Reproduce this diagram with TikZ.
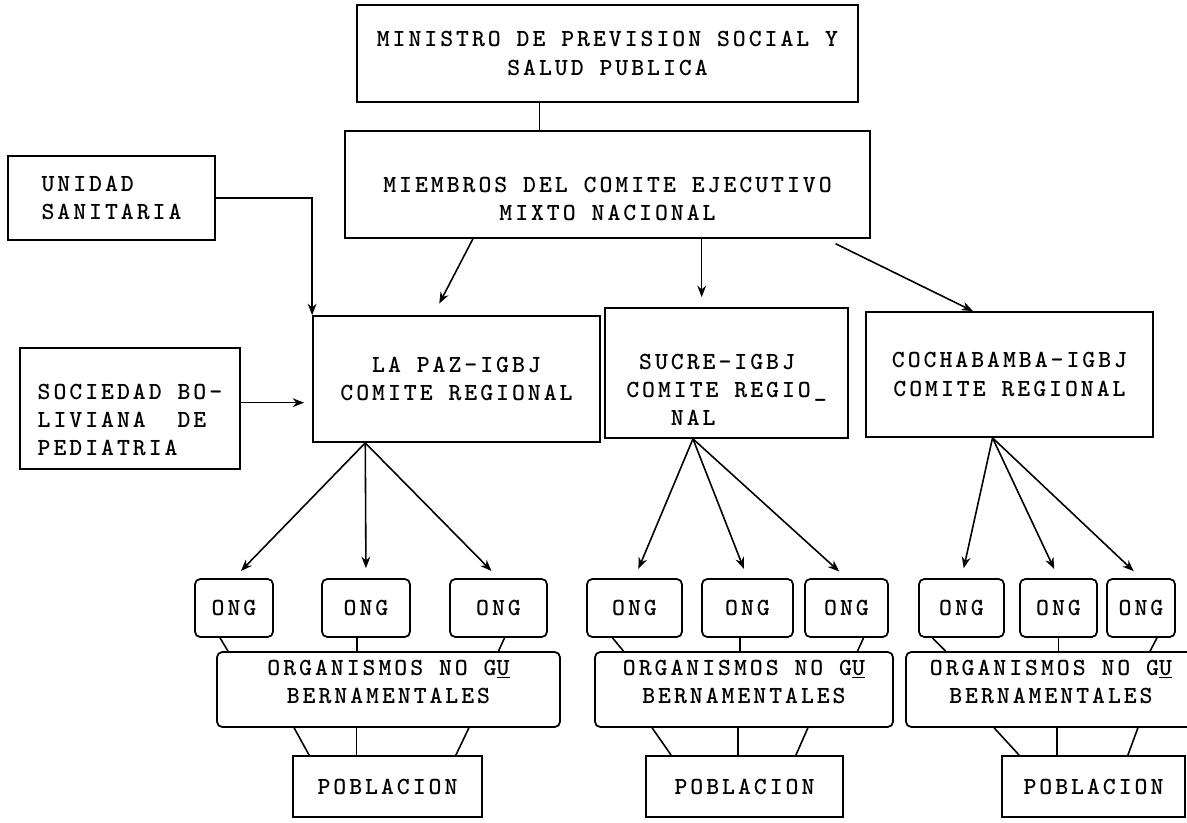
\documentclass[tikz,border=0pt]{standalone}
\usepackage{fontspec}
\usepackage{tikz}
\usetikzlibrary{arrows, arrows.meta, positioning, calc}
\newfontfamily\typew{lmmonolt10-bold}[Extension=.otf, LetterSpace=12]

\begin{document}
\begin{tikzpicture}[
    box/.style={rectangle, draw, line width=1pt, align=center, inner sep=2pt, font=\typew\fontsize{14}{16}\selectfont},
    ong/.style={box, rounded corners=3pt},
    arrow/.style={->, >={Stealth[length=6.5pt, width=5pt]}, line width=0.9pt},
    link/.style={line width=0.9pt}
]
\useasboundingbox (0,0) rectangle (23.74,16.44);

% Top - ministry and national committee
\node[box, minimum width=10.02cm, minimum height=1.94cm] (ministro) at (12.15,15.37) {MINISTRO DE PREVISION SOCIAL Y\\SALUD PUBLICA};
\node[box, minimum width=10.5cm, minimum height=2.14cm] (miembros) at (12.15,12.75) {\rule{0pt}{0.9cm}MIEMBROS DEL COMITE EJECUTIVO\\MIXTO NACIONAL};

% Left side - supporting institutions
\node[box, align=left, minimum width=4.14cm, minimum height=1.68cm] (unidad) at (2.23,12.48) {UNIDAD\\SANITARIA};
\node[box, align=left, minimum width=4.4cm, minimum height=2.42cm] (sociedad) at (2.6,8.27) {\rule{0pt}{0.78cm}SOCIEDAD BO-\\LIVIANA\ \ DE\\PEDIATRIA};

% Regional committees
\node[box, minimum width=5.74cm, minimum height=2.52cm] (lapaz) at (9.13,8.86) {LA PAZ-IGBJ\\COMITE REGIONAL};
\node[box, align=left, minimum width=4.86cm, minimum height=2.6cm] (sucre) at (14.53,8.98) {\rule{0pt}{0.98cm}\phantom{C}SUCRE-IGBJ\\COMITE REGIO\_\\\phantom{COM}NAL};
\node[box, minimum width=5.74cm, minimum height=2.5cm] (cocha) at (20.19,8.95) {COCHABAMBA-IGBJ\\COMITE REGIONAL};

% ONG row
\node[ong, minimum width=1.56cm, minimum height=1.16cm] (l1) at (4.68,4.28) {ONG};
\node[ong, minimum width=1.76cm, minimum height=1.16cm] (l2) at (7.32,4.28) {ONG};
\node[ong, minimum width=1.94cm, minimum height=1.16cm] (l3) at (9.97,4.28) {ONG};
\node[ong, minimum width=1.9cm, minimum height=1.16cm] (s1) at (12.69,4.28) {ONG};
\node[ong, minimum width=1.82cm, minimum height=1.16cm] (s2) at (14.95,4.28) {ONG};
\node[ong, minimum width=1.66cm, minimum height=1.16cm] (s3) at (16.93,4.28) {ONG};
\node[ong, minimum width=1.7cm, minimum height=1.16cm] (c1) at (19.23,4.28) {ONG};
\node[ong, minimum width=1.54cm, minimum height=1.16cm] (c2) at (21.17,4.28) {ONG};
\node[ong, minimum width=1.36cm, minimum height=1.16cm] (c3) at (22.82,4.28) {ONG};

% Organismos no gubernamentales
\node[ong, minimum width=6.86cm, minimum height=1.5cm] (orgl) at (7.77,2.65) {ORGANISMOS NO G\underline{U}\\BERNAMENTALES\rule[-0.32cm]{0pt}{0.32cm}};
\node[ong, minimum width=5.96cm, minimum height=1.5cm] (orgs) at (14.88,2.65) {ORGANISMOS NO G\underline{U}\\BERNAMENTALES\rule[-0.32cm]{0pt}{0.32cm}};
\node[ong, minimum width=5.8cm, minimum height=1.5cm] (orgc) at (21.02,2.65) {ORGANISMOS NO G\underline{U}\\BERNAMENTALES\rule[-0.32cm]{0pt}{0.32cm}};

% Poblacion
\node[box, minimum width=3.78cm, minimum height=1.22cm] (pobl) at (7.75,0.71) {POBLACION};
\node[box, minimum width=3.94cm, minimum height=1.22cm] (pobs) at (14.89,0.71) {POBLACION};
\node[box, minimum width=3.66cm, minimum height=1.22cm] (pobc) at (21.87,0.71) {POBLACION};

% Arrows - top part
\draw[link] (ministro.-144) -- (ministro.-144 |- miembros.north);
\draw[arrow, shorten >=0.26cm] (miembros.-158) -- (lapaz.110);
\draw[arrow, shorten >=0.2cm] (miembros.-30) -- (miembros.-30 |- sucre.north);
\draw[arrow, shorten <=0.22cm] (miembros.-14) -- (cocha.120);
\draw[arrow] (unidad.east) -| (lapaz.north west);
\draw[arrow, shorten >=0.16cm] (sociedad.3) -- (sociedad.3 -| lapaz.west);

% Arrows - regional committees to ONG
\draw[arrow, shorten >=0.2cm] (lapaz.-145) -- (l1.north);
\draw[arrow, shorten >=0.2cm] (lapaz.-145) -- (l2.north);
\draw[arrow, shorten >=0.2cm] (lapaz.-145) -- (l3.north);
\draw[arrow, shorten >=0.2cm] (sucre.-117) -- (s1.north);
\draw[arrow, shorten >=0.2cm] (sucre.-117) -- (s2.north);
\draw[arrow, shorten >=0.2cm] (sucre.-117) -- (s3.north);
\draw[arrow, shorten >=0.2cm] (cocha.-105) -- (c1.north);
\draw[arrow, shorten >=0.2cm] (cocha.-105) -- (c2.north);
\draw[arrow, shorten >=0.2cm] (cocha.-105) -- (c3.north);

% Lines - ONG to organismos
\draw[link] ([xshift=-0.28cm]l1.south) -- ([xshift=-0.12cm]l1.south |- orgl.north);
\draw[link] ([xshift=-0.18cm]l2.south) -- ([xshift=-0.18cm]l2.south |- orgl.north);
\draw[link] ([xshift=0.12cm]l3.south) -- (l3.south |- orgl.north);
\draw[link] ([xshift=-0.44cm]s1.south) -- ([xshift=-0.22cm]s1.south |- orgs.north);
\draw[link] ([xshift=-0.15cm]s2.south) -- ([xshift=-0.15cm]s2.south |- orgs.north);
\draw[link] ([xshift=0.34cm]s3.south) -- ([xshift=0.22cm]s3.south |- orgs.north);
\draw[link] ([xshift=-0.58cm]c1.south) -- ([xshift=-0.32cm]c1.south |- orgc.north);
\draw[link] (c2.south) -- (c2.south |- orgc.north);
\draw[link] ([xshift=0.32cm]c3.south) -- ([xshift=0.18cm]c3.south |- orgc.north);

% Lines - organismos to poblacion
\draw[link] ([xshift=0.04cm]pobl.north west |- orgl.south) -- ([xshift=0.34cm]pobl.north west);
\draw[link] ([xshift=-0.62cm]pobl.north |- orgl.south) -- ([xshift=-0.62cm]pobl.north);
\draw[link] ([xshift=-0.28cm]pobl.north east |- orgl.south) -- ([xshift=-0.54cm]pobl.north east);
\draw[link] ([xshift=0.14cm]pobs.north west |- orgs.south) -- ([xshift=0.52cm]pobs.north west);
\draw[link] ([xshift=-0.13cm]pobs.north |- orgs.south) -- ([xshift=-0.13cm]pobs.north);
\draw[link] ([xshift=-0.72cm]pobs.north east |- orgs.south) -- ([xshift=-0.96cm]pobs.north east);
\draw[link] ([xshift=-0.14cm]pobc.north west |- orgc.south) -- ([xshift=0.36cm]pobc.north west);
\draw[link] ([xshift=-0.73cm]pobc.north |- orgc.south) -- ([xshift=-0.73cm]pobc.north);
\draw[link] ([xshift=-0.96cm]pobc.north east |- orgc.south) -- ([xshift=-1.16cm]pobc.north east);

\end{tikzpicture}
\end{document}
